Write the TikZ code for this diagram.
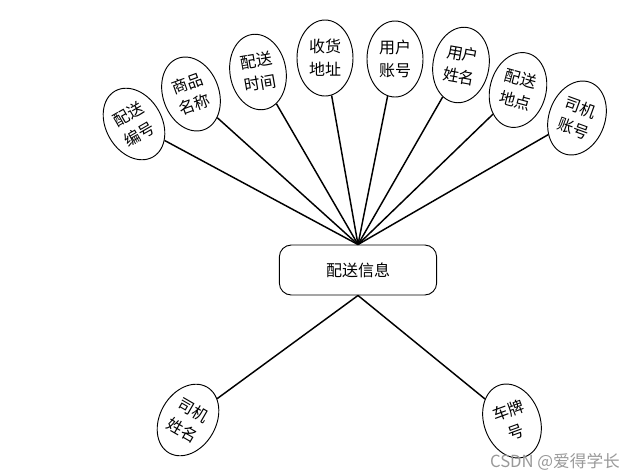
\documentclass[tikz,border=0pt]{standalone}
\usepackage{fontspec}
\setmainfont{Noto Sans CJK SC}
\usetikzlibrary{shapes.geometric}

\begin{document}
\begin{tikzpicture}[x=0.75pt,y=-0.75pt,
  attr/.style={draw,ellipse,line width=0.7pt,inner sep=0pt,minimum width=42pt,minimum height=57pt,align=center,font=\fontsize{12}{17}\selectfont},
  entity/.style={draw,rounded corners=9pt,line width=0.7pt,minimum width=118pt,minimum height=37.5pt,font=\fontsize{12}{15}\selectfont},
  link/.style={line width=1.1pt}]
\useasboundingbox (0,0) rectangle (639,475);
\node[entity] (info) at (358,270) {配送信息};
% attributes above
\node[attr,rotate=30] (bh) at (134,124) {配送\\编号};
\node[attr,rotate=20] (spmc) at (191,94) {商品\\名称};
\node[attr,rotate=10] (pssj) at (258,72) {配送\\时间};
\node[attr] (shdz) at (325,58) {收货\\地址};
\node[attr] (yhzh) at (395,59) {用户\\账号};
\node[attr,rotate=-10] (yhxm) at (461,65) {用户\\姓名};
\node[attr,rotate=-15] (psdd) at (518,90) {配送\\地点};
\node[attr,rotate=-20] (sjzh) at (577,118) {司机\\账号};
% attributes below
\node[attr,rotate=-30] (sjxm) at (188,420) {司机\\姓名};
\node[attr,rotate=20] (cph) at (512,421) {车牌\\号};
\foreach \a in {bh,spmc,pssj,shdz,yhzh,yhxm,psdd,sjzh}
  \draw[link] (\a) -- (info.north);
\draw[link] (info.south) -- (sjxm);
\draw[link] (info.south) -- (cph);
\node[text=gray!80,font=\fontsize{12.5}{14}\selectfont] (mark) at (555,462) {CSDN @爱得学长};
\end{tikzpicture}
\end{document}
